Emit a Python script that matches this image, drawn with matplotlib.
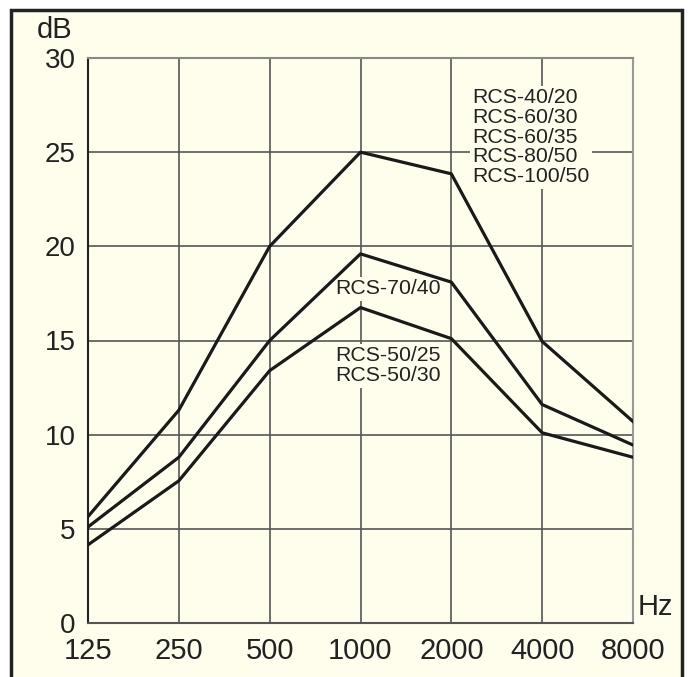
import matplotlib.pyplot as plt
from matplotlib.patches import Rectangle

# data
freqs = ['125', '250', '500', '1000', '2000', '4000', '8000']
y_ticks = [0, 5, 10, 15, 20, 25, 30]

# RCS-40/20, 60/30, 60/35, 80/50, 100/50
upper = [5.65, 11.3, 20.0, 25.0, 23.85, 14.95, 10.7]
# RCS-70/40
middle = [5.1, 8.8, 15.0, 19.6, 18.1, 11.6, 9.45]
# RCS-50/25, 50/30
lower = [4.15, 7.55, 13.4, 16.75, 15.1, 10.1, 8.8]

bg = '#fffdeb'
ink = '#222222'
plt.rcParams['font.family'] = ['Liberation Sans', 'DejaVu Sans']

fig = plt.figure(figsize=(6.9, 6.77), dpi=100)
fig.patch.set_facecolor('white')
# frame around the whole chart (bottom edge runs off the picture)
frame = Rectangle((11 / 690, -10 / 677), 671 / 690, 677 / 677,
                  transform=fig.transFigure, facecolor=bg,
                  edgecolor=ink, linewidth=2.5, zorder=-5)
fig.add_artist(frame)

ax = fig.add_axes([88 / 690, 54 / 677, 545 / 690, 565 / 677])
ax.set_facecolor(bg)

x = list(range(len(freqs)))
for s in (upper, middle, lower):
    ax.plot(x, s, color='#1a1a1a', linewidth=2.3, zorder=3)

ax.set_xlim(0, 6)
ax.set_ylim(0, 30)
ax.set_xticks(x)
ax.set_xticklabels(freqs, fontsize=21, color=ink)
ax.set_yticks(y_ticks)
ax.set_yticklabels([str(v) for v in y_ticks], fontsize=20, color=ink)
ax.tick_params(length=0)
ax.tick_params(axis='x', pad=10)
ax.tick_params(axis='y', pad=9)
ax.grid(True, color='#555555', linewidth=1.2, zorder=1)
ax.set_axisbelow(True)

ax.spines['left'].set_color(ink)
ax.spines['bottom'].set_color('#555555')
ax.spines['top'].set_color('#888888')
ax.spines['right'].set_color('#999999')
for sp in ax.spines.values():
    sp.set_linewidth(1.5)

box = dict(facecolor=bg, edgecolor='none', pad=1.5)
ax.text(4.23, 25.8, 'RCS-40/20\nRCS-60/30\nRCS-60/35\nRCS-80/50\nRCS-100/50',
        fontsize=15.3, color=ink, ha='left', va='center',
        linespacing=1.06, bbox=box, zorder=2)
ax.text(3.30, 17.74, 'RCS-70/40', fontsize=15.3, color=ink,
        ha='center', va='center', bbox=box, zorder=2)
ax.text(3.30, 13.65, 'RCS-50/25\nRCS-50/30', fontsize=15.3, color=ink,
        ha='center', va='center', linespacing=1.06, bbox=box, zorder=2)

fig.text(55 / 690, 1 - 30 / 677, 'dB', fontsize=21, ha='center', va='center', color=ink)
fig.text(655 / 690, 1 - 607 / 677, 'Hz', fontsize=21, ha='center', va='center', color=ink)

fig.savefig('out.png', dpi=100, facecolor='white')
